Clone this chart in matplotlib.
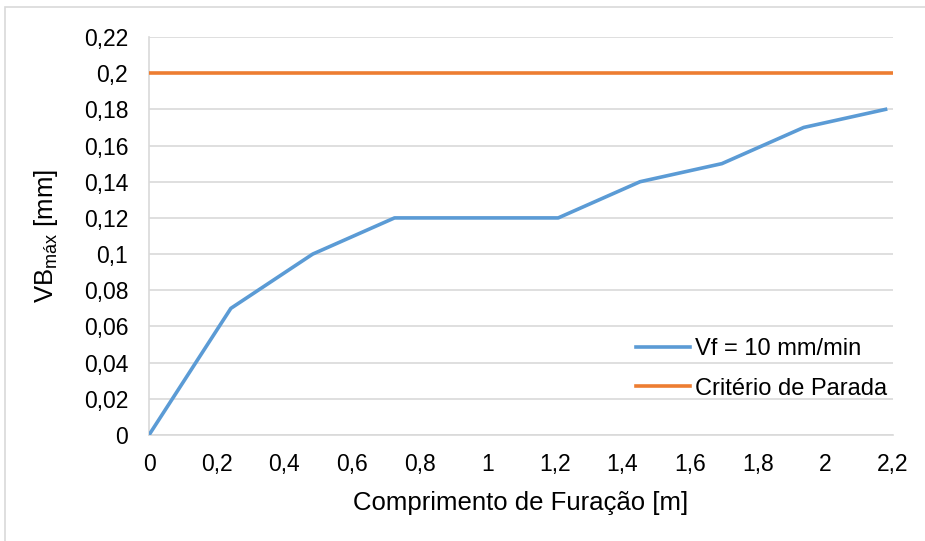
import numpy as np
import matplotlib
matplotlib.use("Agg")
import matplotlib.pyplot as plt
from matplotlib.patches import Rectangle
from matplotlib.ticker import FuncFormatter

plt.rcParams["font.family"] = ["Liberation Sans", "DejaVu Sans"]
plt.rcParams["mathtext.default"] = "regular"

# furação acumulada [m] e desgaste de flanco máximo [mm]
comprimento = [0, 0.242, 0.484, 0.726, 0.968, 1.21, 1.452, 1.694, 1.936, 2.178]
vb_max = [0, 0.07, 0.10, 0.12, 0.12, 0.12, 0.14, 0.15, 0.17, 0.18]
criterio_x = [0, 2.2]
criterio_y = [0.2, 0.2]

BLUE = "#5B9BD5"
ORANGE = "#ED7D31"
GRID = "#D9D9D9"


def _virgula(v, _pos):
    s = f"{v:.2f}".rstrip("0").rstrip(".")
    return s.replace(".", ",")


fig = plt.figure(figsize=(9.25, 5.41), dpi=100)
fig.patches.append(Rectangle((5 / 925, -0.1), 1.2, (541 - 7) / 541 + 0.1,
                             transform=fig.transFigure, fill=False,
                             edgecolor=GRID, lw=1.2))
ax = fig.add_axes([149 / 925, 106 / 541, 744 / 925, 398 / 541])

ax.plot(comprimento, vb_max, color=BLUE, lw=2.6, label="Vf = 10 mm/min",
        solid_joinstyle="round", zorder=3)
ax.plot(criterio_x, criterio_y, color=ORANGE, lw=2.6, label="Critério de Parada",
        zorder=3)

ax.set_xlim(0, 2.2)
ax.set_ylim(0, 0.22)
ax.set_xticks(np.arange(0, 2.21, 0.2))
ax.set_yticks(np.arange(0, 0.221, 0.02))
ax.xaxis.set_major_formatter(FuncFormatter(_virgula))
ax.yaxis.set_major_formatter(FuncFormatter(_virgula))
ax.tick_params(length=0, labelsize=16.5, colors="#000000")
ax.tick_params(axis="x", pad=13)
ax.tick_params(axis="y", pad=15)
ax.grid(axis="y", color=GRID, lw=1.2)
ax.set_axisbelow(True)
for side in ("top", "right"):
    ax.spines[side].set_visible(False)
for side in ("left", "bottom"):
    ax.spines[side].set_color(GRID)
    ax.spines[side].set_linewidth(1.2)

ax.set_xlabel("Comprimento de Furação [m]", fontsize=18.5, labelpad=11)
ax.set_ylabel("VB$_{máx}$ [mm]", fontsize=18.5, labelpad=17)

leg = ax.legend(loc="lower right", bbox_to_anchor=(1.005, 0.065), frameon=False,
                fontsize=17, handlelength=2.3, handletextpad=0.2,
                labelspacing=0.75, borderaxespad=0.0)

fig.savefig("out.png", dpi=100)
